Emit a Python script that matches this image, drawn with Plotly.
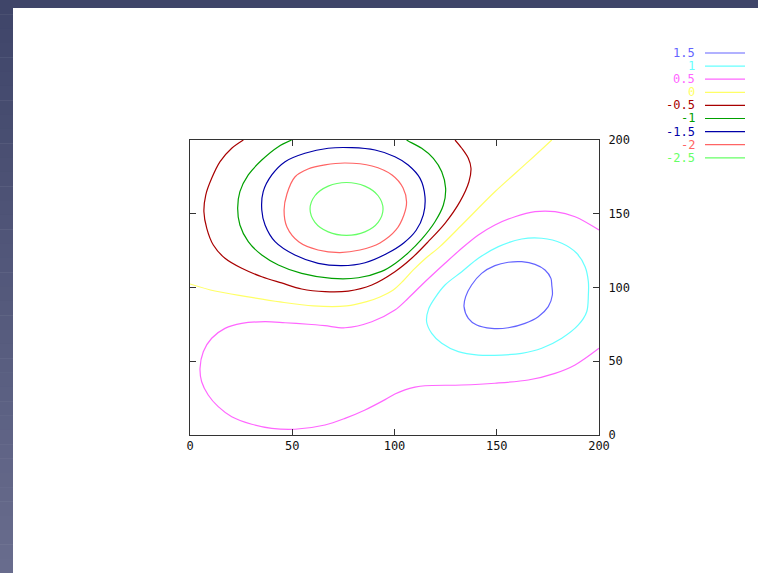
import plotly.graph_objects as go

# ---- data ----
levels = ["1.5", "1", "0.5", "0", "-0.5", "-1", "-1.5", "-2", "-2.5"]
colors = ["#6464ff", "#66ffff", "#ff66ff", "#ffff66", "#a80000", "#00a000", "#0000a8", "#ff6464", "#66ff66"]

x_p15 = [134.0, 134.8, 137.7, 142.6, 149.1, 155.6, 162.2, 168.7, 173.6, 176.5, 176.9, 177.2, 175.2, 170.3,
         163.8, 155.6, 147.5, 140.2, 136.1, 134.0]
y_p15 = [87.0, 93.8, 101.7, 109.6, 114.8, 117.1, 117.5, 115.7, 111.9, 106.2, 101.7, 94.9, 87.0, 80.2,
         75.7, 72.7, 72.3, 74.6, 79.1, 87.0]

x_p10 = [115.7, 116.7, 119.8, 124.7, 132.9, 141.0, 150.8, 162.2, 172.0, 181.8, 189.1, 193.2, 194.8, 194.8,
         194.0, 189.9, 181.8, 172.0, 162.2, 152.4, 141.0, 131.2, 123.1, 118.2, 115.7]
y_p10 = [76.8, 85.5, 93.0, 101.7, 110.7, 119.8, 127.7, 132.9, 133.4, 130.0, 123.2, 114.1, 103.9, 94.9,
         83.6, 74.6, 65.6, 58.8, 55.4, 54.2, 54.2, 56.5, 62.2, 68.9, 76.8]

x_p05 = [200.0, 188.3, 178.5, 168.7, 158.9, 149.1, 141.0, 132.9, 124.7, 113.3, 106.7, 100.2, 88.9, 75.8,
         66.0, 57.8, 46.5, 36.7, 25.3, 17.1, 10.6, 6.5, 4.9, 5.7, 8.9, 13.8, 20.4, 30.2, 40.0, 51.3,
         66.0, 75.8, 85.6, 95.4, 100.2, 105.1, 110.0, 114.9, 132.9, 149.1, 165.4, 178.5, 188.3, 200.0]
y_p05 = [139.0, 148.0, 151.4, 151.4, 148.0, 142.4, 135.6, 126.6, 116.4, 101.7, 92.7, 84.7, 76.8, 72.7,
         74.1, 75.1, 76.1, 76.8, 75.7, 72.3, 65.6, 56.5, 45.2, 36.1, 27.1, 19.2, 12.4, 7.3, 4.5, 3.9,
         6.8, 11.3, 17.0, 24.0, 27.8, 30.6, 32.4, 33.4, 33.9, 35.1, 37.3, 41.8, 47.5, 58.8]

x_00 = [0.0, 12.2, 27.7, 44.0, 60.3, 76.6, 86.4, 92.9, 99.4, 104.2, 109.2, 115.4, 122.2, 132.9, 149.1, 165.4, 176.9]
y_00 = [102.4, 97.6, 93.8, 90.2, 87.5, 87.5, 90.4, 93.6, 98.3, 104.4, 111.9, 120.0, 127.7, 142.4, 164.9, 185.3, 200.0]

x_m05 = [26.1, 20.4, 14.7, 10.6, 7.7, 6.8, 8.2, 11.4, 17.1, 25.3, 35.1, 44.8, 54.6, 66.0, 77.4, 88.9,
         100.2, 108.4, 116.5, 124.7, 132.0, 136.4, 137.4, 136.1, 132.9, 129.6]
y_m05 = [200.0, 194.4, 185.3, 174.0, 162.7, 151.4, 140.1, 128.8, 119.8, 113.0, 107.3, 103.1, 99.0, 97.2, 97.6, 101.7,
         110.7, 119.8, 131.1, 143.5, 158.2, 171.7, 180.8, 187.6, 194.4, 200.0]

x_m10 = [49.7, 43.2, 35.1, 28.5, 24.4, 23.3, 24.4, 28.5, 35.1, 43.2, 54.6, 69.3, 82.3, 93.7, 100.5, 106.7,
         113.3, 119.8, 123.9, 125.0, 123.1, 119.0, 113.3, 106.7, 105.9]
y_m10 = [200.0, 195.5, 186.4, 176.3, 165.0, 153.7, 142.4, 131.1, 122.0, 115.3, 109.6, 106.2, 106.6, 110.9, 116.5, 123.5,
         132.8, 144.6, 155.9, 167.3, 178.5, 187.6, 194.4, 199.3, 200.0]

x_m15 = [35.1, 35.8, 40.0, 46.5, 56.2, 67.6, 79.1, 90.5, 100.2, 106.7, 112.5, 114.9, 114.1, 110.6, 104.5,
         96.5, 85.6, 74.2, 62.7, 51.3, 41.6, 36.7, 35.1]
y_m15 = [152.5, 165.0, 176.3, 185.3, 191.0, 194.4, 194.8, 193.2, 188.7, 183.1, 174.0, 161.6, 149.2, 138.8, 130.2,
         123.2, 116.8, 114.8, 116.4, 122.0, 131.1, 142.4, 152.5]

x_m20 = [46.0, 47.4, 51.3, 57.7, 66.0, 75.8, 89.0, 98.8, 104.2, 105.9, 104.6, 100.7, 92.9, 83.1, 73.3,
         62.6, 53.3, 47.4, 46.0]
y_m20 = [152.5, 163.4, 174.9, 180.3, 183.1, 184.4, 182.4, 176.3, 167.5, 158.0, 149.2, 139.0, 130.2, 125.4, 123.7,
         125.4, 130.8, 141.0, 152.5]

x_m25 = [94.4, 92.0, 85.5, 76.5, 67.6, 61.1, 58.7, 61.1, 67.6, 76.5, 85.5, 92.0, 94.4]
y_m25 = [153.2, 162.2, 168.7, 171.2, 168.7, 162.2, 153.2, 144.2, 137.7, 135.3, 137.7, 144.2, 153.2]

curves_x = [x_p15, x_p10, x_p05, x_00, x_m05, x_m10, x_m15, x_m20, x_m25]
curves_y = [y_p15, y_p10, y_p05, y_00, y_m05, y_m10, y_m15, y_m20, y_m25]

x_ticks = [0, 50, 100, 150, 200]
y_ticks = [0, 50, 100, 150, 200]

# ---- figure ----
W, H = 758, 573
L, R, T, B = 190, 159, 140, 138
pw, ph = W - L - R, H - T - B

def px(x):
    return (x - L) / pw

def py(y):
    return (H - B - y) / ph

FONT = "DejaVu Sans Mono"

fig = go.Figure()
for name, col, xs, ys in zip(levels, colors, curves_x, curves_y):
    fig.add_trace(go.Scatter(x=xs, y=ys, mode="lines", name=name,
                             line=dict(color=col, width=1.2, shape="spline", smoothing=0.9),
                             showlegend=False, hoverinfo="skip"))

shapes = []
# dark frame strips (left with vertical gradient, top solid)
top_rgb = (0x3f, 0x45, 0x69)
bot_rgb = (0x68, 0x6c, 0x8d)
n = 40
for i in range(n):
    t = i / (n - 1)
    c = tuple(int(round(a + (b - a) * t)) for a, b in zip(top_rgb, bot_rgb))
    y0 = i * H / n
    y1 = (i + 1) * H / n + 0.5
    shapes.append(dict(type="rect", xref="paper", yref="paper",
                       x0=px(0), x1=px(13), y0=py(y1), y1=py(y0),
                       fillcolor="rgb(%d,%d,%d)" % c, line=dict(width=0), layer="below"))
shapes.append(dict(type="rect", xref="paper", yref="paper",
                   x0=px(0), x1=px(W), y0=py(8), y1=py(0),
                   fillcolor="rgb(63,69,105)", line=dict(width=0), layer="below"))

# gnuplot-style key: text right-aligned then line sample
annotations = []
for i, (name, col) in enumerate(zip(levels, colors)):
    yy = 53 + i * 13.1
    annotations.append(dict(x=px(697), y=py(yy), xref="paper", yref="paper", text=name,
                            showarrow=False, xanchor="right", yanchor="middle",
                            font=dict(family=FONT, size=12, color=col)))
    shapes.append(dict(type="line", xref="paper", yref="paper",
                       x0=px(705), x1=px(745), y0=py(yy), y1=py(yy),
                       line=dict(color=col, width=1.2)))

fig.update_layout(
    width=W, height=H,
    margin=dict(l=L, r=R, t=T, b=B),
    paper_bgcolor="white", plot_bgcolor="white",
    showlegend=False,
    shapes=shapes, annotations=annotations,
    font=dict(family=FONT, size=12, color="#111111"),
    xaxis=dict(range=[0, 200], tickvals=x_ticks, ticktext=[str(v) for v in x_ticks],
               ticks="inside", ticklen=6, tickcolor="#333333", showgrid=False, zeroline=False,
               showline=True, linecolor="#333333", linewidth=1, mirror="ticks"),
    yaxis=dict(range=[0, 200], tickvals=y_ticks, ticktext=[str(v) for v in y_ticks], side="right",
               ticks="inside", ticklen=6, tickcolor="#333333", showgrid=False, zeroline=False,
               showline=True, linecolor="#333333", linewidth=1, mirror="ticks",
               ticklabelstandoff=6),
)

fig.write_html("out.html", config={"displayModeBar": False},
               post_script="document.body.style.margin='0px';document.body.style.overflow='hidden';")
